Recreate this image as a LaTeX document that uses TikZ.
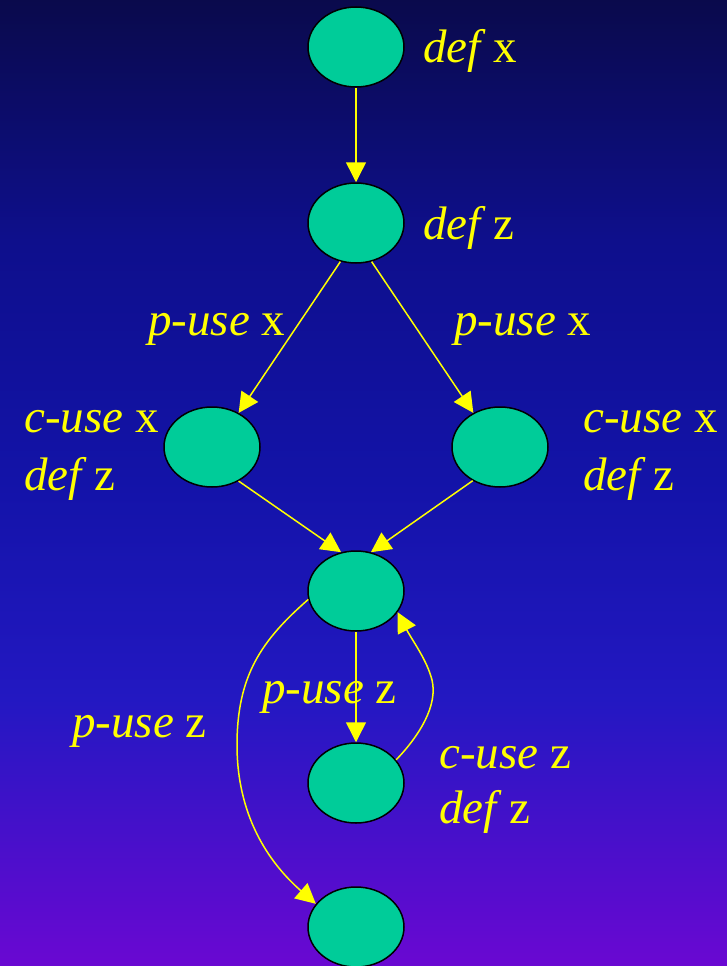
\documentclass[tikz,border=0pt]{standalone}
\usepackage{fontspec}
\setmainfont{Liberation Serif}
\usetikzlibrary{arrows.meta,shapes.geometric}
\definecolor{bgA}{HTML}{0A0A4C}
\definecolor{bgB}{HTML}{0E0F8C}
\definecolor{bgC}{HTML}{1313A8}
\definecolor{bgD}{HTML}{2318C2}
\definecolor{bgE}{HTML}{6A08D2}
\definecolor{nodefill}{HTML}{00CC99}
\definecolor{ylw}{HTML}{FFFF00}
\newcommand{\dfw}{\textit{def}\hspace{0.16em}}
\tikzset{
  vertex/.style={ellipse,draw=black,line width=1.5pt,fill=nodefill,minimum width=96pt,minimum height=80pt,inner sep=0pt},
  lbl/.style={text=ylw,font=\fontsize{47}{58}\selectfont,anchor=base west,inner sep=0pt},
  edge/.style={draw=ylw,line width=1.5pt,-{Triangle[length=20pt,width=20pt]}},
}
\begin{document}
\begin{tikzpicture}[x=1pt,y=-1pt]
\useasboundingbox (0,0) rectangle (727,966);
\shade[top color=bgA,bottom color=bgB] (0,0) rectangle (727,240.5);
\shade[top color=bgB,bottom color=bgC] (0,240) rectangle (727,480.5);
\shade[top color=bgC,bottom color=bgD] (0,480) rectangle (727,700.5);
\shade[top color=bgD,bottom color=bgE] (0,700) rectangle (727,966);

\node[vertex] (n1) at (356,47) {};
\node[vertex] (n2) at (356,223) {};
\node[vertex] (n3) at (212,447) {};
\node[vertex] (n4) at (500,447) {};
\node[vertex] (n5) at (356,591) {};
\node[vertex] (n6) at (356,783) {};
\node[vertex] (n7) at (356,927) {};

\node[lbl] (l1) at (423,63) {\dfw x};
\node[lbl] (l2) at (423,239) {\dfw z};
\node[lbl] (l3) at (148,335) {\textit{p-use} x};
\node[lbl] (l4) at (454,335) {\textit{p-use} x};
\node[lbl] (l5) at (24,432) {\textit{c-use} x};
\node[lbl] (l6) at (24,490) {\dfw z};
\node[lbl] (l7) at (583,432) {\textit{c-use} x};
\node[lbl] (l8) at (583,490) {\dfw z};
\node[lbl] (l9) at (262,703) {\textit{p-use} z};
\node[lbl] (l10) at (72,737) {\textit{p-use} z};
\node[lbl] (l11) at (439,768) {\textit{c-use} z};
\node[lbl] (l12) at (439,823) {\dfw z};

\draw[edge] (n1) -- (n2);
\draw[edge] (n2.-112) -- (n3.52);
\draw[edge] (n2.-68) -- (n4.128);
\draw[edge] (n3.-52) -- (n5.111);
\draw[edge] (n4.-129) -- (n5.69);
\draw[edge] (n5) -- (n6);
\draw[edge] (n6.30) .. controls (420,735) and (438,705) .. (432,680) .. controls (427,660) and (412,640) .. (n5.-27);
\draw[edge] (n5.190) .. controls (262,640) and (237,675) .. (237,745) .. controls (237,815) and (268,862) .. (n7.150);
\end{tikzpicture}
\end{document}
